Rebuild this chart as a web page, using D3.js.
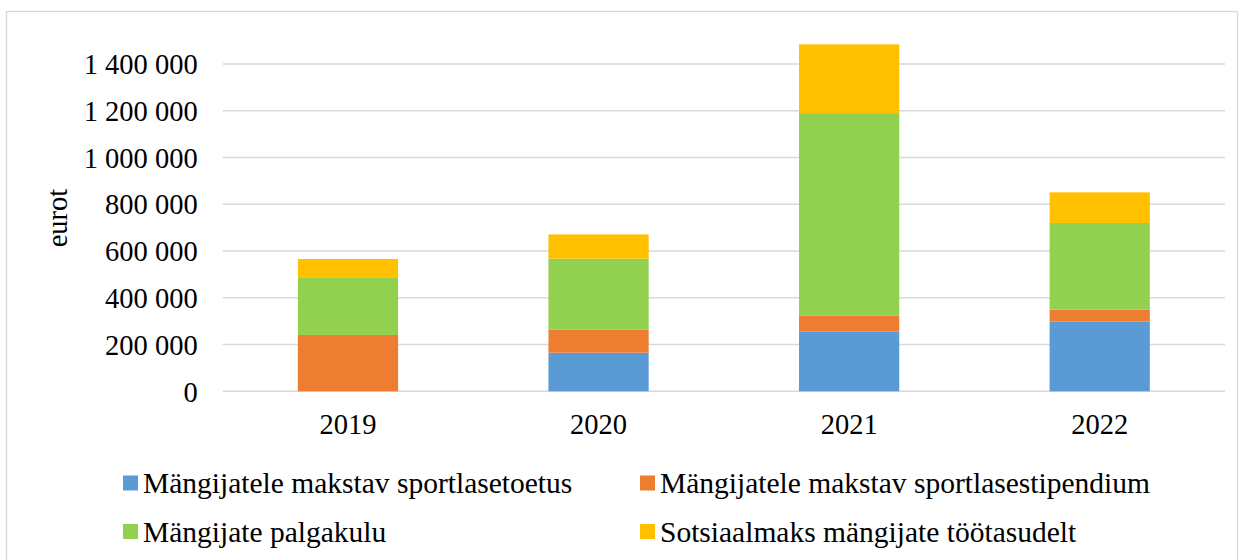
<!DOCTYPE html>
<html>
<head>
<meta charset="utf-8">
<script src="https://d3js.org/d3.v7.min.js"></script>
<style>
  body { margin: 0; background: #fff; }
  svg { display: block; }
  svg text { font-family: "Liberation Serif", "Times New Roman", "DejaVu Serif", serif; }
</style>
</head>
<body>
<div id="chart"></div>
<script>
// years on the x axis
var years = ["2019", "2020", "2021", "2022"];
// series names (legend order)
var seriesNames = [
  "Mängijatele makstav sportlasetoetus",
  "Mängijatele makstav sportlasestipendium",
  "Mängijate palgakulu",
  "Sotsiaalmaks mängijate töötasudelt"
];
var seriesColors = ["#5B9BD5", "#ED7D31", "#92D050", "#FFC000"];
// values, per year
var toetus     = [0, 165000, 255000, 298000];
var stipendium = [241000, 98000, 68000, 51000];
var palgakulu  = [244000, 304000, 867000, 371000];
var sotsiaal   = [81000, 104000, 294000, 131000];
var yTicks = [0, 200000, 400000, 600000, 800000, 1000000, 1200000, 1400000];

var width = 1245, height = 560;
var plotLeft = 222.7, plotRight = 1225, plotTop = 64, plotBottom = 391.3;
var fontSize = 28.5, legendFont = 29.5;

var svg = d3.select("#chart").append("svg")
  .attr("width", width)
  .attr("height", height);

// outer chart frame
svg.append("rect")
  .attr("x", 6.5).attr("y", 11.5)
  .attr("width", 1231).attr("height", 560)
  .attr("fill", "none").attr("stroke", "#D9D9D9").attr("stroke-width", 1.3);

var x = d3.scaleBand().domain(years).range([plotLeft, plotRight]).paddingInner(0.6).paddingOuter(0.3);
var y = d3.scaleLinear().domain([0, 1400000]).range([plotBottom, plotTop]);

// gridlines
svg.append("g").selectAll("line")
  .data(yTicks)
  .enter().append("line")
  .attr("x1", plotLeft).attr("x2", plotRight)
  .attr("y1", function(d){ return y(d); })
  .attr("y2", function(d){ return y(d); })
  .attr("stroke", "#D9D9D9").attr("stroke-width", 1.5);

// y axis labels
var fmt = function(d) { return d3.format(",")(d).replace(/,/g, " "); };
var yAxis = d3.axisLeft(y).tickValues(yTicks).tickFormat(fmt).tickSize(0).tickPadding(25);
var gy = svg.append("g").attr("transform", "translate(" + plotLeft + ",0)").call(yAxis);
gy.attr("font-family", null);
gy.select(".domain").remove();
gy.selectAll("text")
  .attr("font-size", fontSize)
  .attr("fill", "#000")
  .attr("dy", "0.34em");

// stacked data
var table = years.map(function(yr, i) {
  return { year: yr, s0: toetus[i], s1: stipendium[i], s2: palgakulu[i], s3: sotsiaal[i] };
});
var stack = d3.stack().keys(["s0", "s1", "s2", "s3"]);
var layers = stack(table);

svg.append("g").selectAll("g")
  .data(layers)
  .enter().append("g")
  .attr("fill", function(d, i){ return seriesColors[i]; })
  .selectAll("rect")
  .data(function(d){ return d.filter(function(p){ return p[1] > p[0]; }); })
  .enter().append("rect")
  .attr("x", function(d){ return x(d.data.year); })
  .attr("width", x.bandwidth())
  .attr("y", function(d){ return y(d[1]); })
  .attr("height", function(d){ return y(d[0]) - y(d[1]); });

// x axis labels
var xAxis = d3.axisBottom(x).tickSize(0).tickPadding(22);
var gx = svg.append("g").attr("transform", "translate(0," + plotBottom + ")").call(xAxis);
gx.attr("font-family", null);
gx.select(".domain").remove();
gx.selectAll("text")
  .attr("font-size", fontSize)
  .attr("fill", "#000");

// y axis title
svg.append("text")
  .attr("transform", "translate(67,218) rotate(-90)")
  .attr("text-anchor", "middle")
  .attr("font-size", fontSize)
  .attr("fill", "#000")
  .text("eurot");

// legend
var legendPos = [[123, 483], [640, 483], [123, 531.5], [640, 531.5]];
var legend = svg.append("g").selectAll("g")
  .data(seriesNames)
  .enter().append("g")
  .attr("transform", function(d, i){ return "translate(" + legendPos[i][0] + "," + legendPos[i][1] + ")"; });
legend.append("rect")
  .attr("x", 0).attr("y", -7.5)
  .attr("width", 15).attr("height", 15)
  .attr("fill", function(d, i){ return seriesColors[i]; });
legend.append("text")
  .attr("x", 20).attr("dy", "0.34em")
  .attr("font-size", legendFont)
  .attr("fill", "#000")
  .text(function(d){ return d; });
</script>
</body>
</html>
